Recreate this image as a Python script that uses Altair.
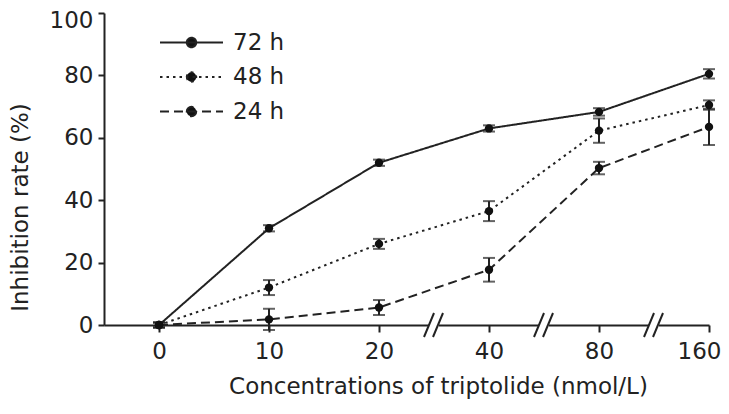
import altair as alt
import pandas as pd

categories = ["0", "10", "20", "40", "80", "160"]
series_names = ["72 h", "48 h", "24 h"]
values_72h = [0, 31, 52, 63, 68.3, 80.5]
errors_72h = [0.8, 1.0, 1.0, 1.0, 1.2, 1.5]
values_48h = [0, 12, 26, 36.5, 62.3, 70.5]
errors_48h = [0.8, 2.4, 1.6, 3.2, 3.9, 1.5]
values_24h = [0, 1.8, 5.6, 17.7, 50.3, 63.5]
errors_24h = [0.8, 3.4, 2.4, 3.8, 2.0, 5.8]
break_after = [2, 3, 4]  # axis breaks between these category indices and the next

rows = []
for name, vals, errs in [("72 h", values_72h, errors_72h),
                         ("48 h", values_48h, errors_48h),
                         ("24 h", values_24h, errors_24h)]:
    for i, (v, e) in enumerate(zip(vals, errs)):
        rows.append({"series": name, "idx": i, "value": v, "lo": v - e, "hi": v + e})
df = pd.DataFrame(rows)
breaks = pd.DataFrame({"pos": [b + 0.5 for b in break_after], "zero": [0] * len(break_after)})

label_expr = "[" + ",".join(f"'{c}'" for c in categories) + "][datum.value]"
last_idx = len(categories) - 1

FONT = "DejaVu Sans"
INK = "#222"

xenc = alt.X("idx:Q",
             scale=alt.Scale(domain=[-0.5, last_idx], nice=False, zero=False),
             axis=alt.Axis(values=list(range(len(categories))), labelExpr=label_expr,
                           title="Concentrations of triptolide (nmol/L)", grid=False,
                           tickSize=7, labelPadding=8, titlePadding=12, labelFlush=False,
                           labelFontSize=23, titleFontSize=23, titleX=334,
                           labelOffset={"condition": {"test": f"datum.value == {last_idx}", "value": -10},
                                        "value": 0}))
yscale = alt.Scale(domain=[0, 100], nice=False)
yenc = alt.Y("value:Q", scale=yscale,
             axis=alt.Axis(values=[0, 20, 40, 60, 80, 100], title="Inhibition rate (%)",
                           grid=False, tickSize=6, labelPadding=5,
                           labelFontSize=23, titleFontSize=23, titleY=194, titleX=-72,
                           labelOffset={"condition": {"test": "datum.value == 100", "value": 7},
                                        "value": 0}))

dash_scale = alt.Scale(domain=series_names, range=[[1, 0], [2.5, 4], [9, 5]])
symbol_path = "M-4,0H4M-0.6,0A0.6,0.6,0,1,1,0.6,0A0.6,0.6,0,1,1,-0.6,0Z"

lines = alt.Chart(df).mark_line(color=INK, strokeWidth=2).encode(
    x=xenc, y=yenc,
    strokeDash=alt.StrokeDash("series:N", scale=dash_scale, sort=series_names,
                              legend=alt.Legend(title=None, orient="none", legendX=76, legendY=18,
                                                symbolType=symbol_path, symbolSize=248,
                                                symbolStrokeWidth=2, symbolStrokeColor=INK,
                                                symbolFillColor="#111", labelFontSize=23,
                                                labelOffset=30, rowPadding=10.5, padding=0,
                                                labelColor=INK, labelFont=FONT)),
)

err_rules = alt.Chart(df).mark_rule(color=INK, strokeWidth=2).encode(
    x="idx:Q", y=alt.Y("lo:Q", scale=yscale), y2="hi:Q")
caps_lo = alt.Chart(df).mark_tick(color=INK, orient="horizontal", size=12, thickness=2).encode(
    x="idx:Q", y=alt.Y("lo:Q", scale=yscale))
caps_hi = alt.Chart(df).mark_tick(color=INK, orient="horizontal", size=12, thickness=2).encode(
    x="idx:Q", y=alt.Y("hi:Q", scale=yscale))
points = alt.Chart(df).mark_point(filled=True, color="#111", size=70, opacity=1).encode(
    x="idx:Q", y=alt.Y("value:Q", scale=yscale))

gap = alt.Chart(breaks).mark_rule(color="white", strokeWidth=5, xOffset=-5, x2Offset=5).encode(
    x="pos:Q", x2="pos:Q", y=alt.Y("zero:Q", scale=yscale))
slash1 = alt.Chart(breaks).mark_rule(color=INK, strokeWidth=2, xOffset=-10, x2Offset=0,
                                     yOffset=12, y2Offset=-12).encode(
    x="pos:Q", x2="pos:Q", y=alt.Y("zero:Q", scale=yscale), y2="zero:Q")
slash2 = alt.Chart(breaks).mark_rule(color=INK, strokeWidth=2, xOffset=-1, x2Offset=9,
                                     yOffset=12, y2Offset=-12).encode(
    x="pos:Q", x2="pos:Q", y=alt.Y("zero:Q", scale=yscale), y2="zero:Q")

chart = alt.layer(lines, err_rules, caps_lo, caps_hi, points, gap, slash1, slash2).properties(
    width=605, height=312,
    autosize=alt.AutoSizeParams(type="none"),
    padding={"left": 96, "top": 5, "right": 12, "bottom": 81},
).configure_view(stroke=None).configure_axis(
    domainColor=INK, domainWidth=2, tickColor=INK, tickWidth=2,
    labelColor=INK, titleColor=INK, labelFont=FONT, titleFont=FONT,
    titleFontWeight="normal",
)

chart.save("out.html", embed_options={"renderer": "svg", "actions": False})
